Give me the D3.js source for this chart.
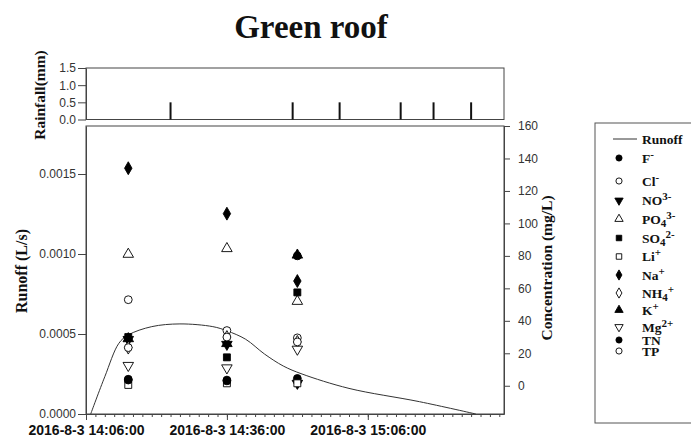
<!DOCTYPE html>
<html>
<head>
<meta charset="utf-8">
<script src="https://cdn.jsdelivr.net/npm/d3@7"></script>
<style>
  body { margin: 0; background: #fff; }
  .tick text { font-family: "Liberation Sans", Arial, sans-serif; font-size: 12px; fill: #333; }
  .axis path, .axis line { stroke: #444; }
  .serif { font-family: "Liberation Serif", "Times New Roman", serif; font-weight: bold; fill: #111; }
</style>
</head>
<body>
<div class="chart"></div>
<script>
// rainfall (mm) per time step
const rainTimes = ["14:24", "14:50", "15:00", "15:13", "15:20", "15:28"];
const rainValues = [0.5, 0.5, 0.5, 0.5, 0.5, 0.5];

// runoff (L/s)
const runoffTimes = ["14:07", "14:10", "14:13", "14:15", "14:20", "14:26", "14:33", "14:36",
                     "14:40", "14:44", "14:48", "14:52", "15:02", "15:17", "15:29"];
const runoffValues = [0, 0.000233, 0.000442, 0.000494, 0.000546, 0.000563, 0.000546, 0.00052,
                      0.000467, 0.000375, 0.000300, 0.000250, 0.00016, 0.000077, 0];

// concentration samples (mg/L)
const sampleTimes = ["14:15", "14:36", "14:51"];
const ions = ["F-", "Cl-", "NO3-", "PO4", "SO4", "Li", "Na", "NH4", "K", "Mg", "TN", "TP"];
const F  = [4, 3.5, 4.5];
const Cl = [53, 34, 29.5];
const NO3 = [28.5, 25.5, 1.5];
const PO4 = [81, 84.5, 52];
const SO4 = [30, 17.5, 57.5];
const Li = [0.5, 1.5, 1.5];
const Na = [134, 106, 64.5];
const NH4 = [23.5, 30, 27];
const K = [29, 26, 80.5];
const Mg = [12.5, 11, 22.5];
const TN = [3.5, 3, 80];
const TP = [23.5, 30, 27];
const concValues = [F, Cl, NO3, PO4, SO4, Li, Na, NH4, K, Mg, TN, TP];

// tick labels
const rainTicks = [0, 0.5, 1.0, 1.5];
const runoffTicks = [0, 0.0005, 0.0010, 0.0015];
const concTicks = [0, 20, 40, 60, 80, 100, 120, 140, 160];
const timeTicks = ["14:06", "14:36", "15:06"];

// marker style per ion: symbol type, filled, rotated
const markers = [
  [d3.symbolCircle, true, 0], [d3.symbolCircle, false, 0], [d3.symbolTriangle, true, 180],
  [d3.symbolTriangle, false, 0], [d3.symbolSquare, true, 0], [d3.symbolSquare, false, 0],
  [d3.symbolDiamond, true, 0], [d3.symbolDiamond, false, 0], [d3.symbolTriangle, true, 0],
  [d3.symbolTriangle, false, 180], [d3.symbolCircle, true, 0], [d3.symbolCircle, false, 0]
];

const t = s => { const [h, m] = s.split(":"); return new Date(2016, 7, 3, +h, +m); };

const W = 691, H = 438;
const left = 86, right = 504;
const rainTop = 68, rainBottom = 119.5;
const mainTop = 126, mainBottom = 414;

const svg = d3.select(".chart").append("svg").attr("width", W).attr("height", H);

const x = d3.scaleTime().domain([t("14:06"), t("15:35")]).range([left, right]);
const yRain = d3.scaleLinear().domain([0, 1.5]).range([rainBottom, rainTop]);
const yRun = d3.scaleLinear().domain([0, 0.0018]).range([mainBottom, mainTop]);
const yConc = d3.scaleLinear().domain([-17.4, 160]).range([mainBottom, mainTop]);

// title
svg.append("text").attr("class", "serif")
   .attr("x", 311).attr("y", 38).attr("text-anchor", "middle")
   .style("font-size", "33px").text("Green roof");

// rainfall panel
svg.append("rect").attr("x", left).attr("y", rainTop)
   .attr("width", right - left).attr("height", rainBottom - rainTop)
   .attr("fill", "none").attr("stroke", "#444");
svg.append("g").attr("class", "axis")
   .attr("transform", `translate(${left},0)`)
   .call(d3.axisLeft(yRain).tickValues(rainTicks).tickFormat(d3.format(".1f")).tickSize(8).tickPadding(2).tickSizeOuter(0));
svg.selectAll(".rain").data(rainTimes).join("line")
   .attr("x1", d => x(t(d))).attr("x2", d => x(t(d)))
   .attr("y1", yRain(0)).attr("y2", (d, i) => yRain(rainValues[i]))
   .attr("stroke", "#111").attr("stroke-width", 2);

// main panel frame
svg.append("rect").attr("x", left).attr("y", mainTop)
   .attr("width", right - left).attr("height", mainBottom - mainTop)
   .attr("fill", "none").attr("stroke", "#444");

svg.append("g").attr("class", "axis")
   .attr("transform", `translate(${left},0)`)
   .call(d3.axisLeft(yRun).tickValues(runoffTicks).tickFormat(d3.format(".4f")).tickSize(8).tickPadding(2).tickSizeOuter(0));
svg.append("g").attr("class", "axis")
   .attr("transform", `translate(${right},0)`)
   .call(d3.axisRight(yConc).tickValues(concTicks).tickSize(6).tickPadding(8).tickSizeOuter(0));

// x axis: minor ticks every 2 min, labelled majors every 30 min
svg.append("g").attr("class", "axis")
   .attr("transform", `translate(0,${mainBottom})`)
   .call(d3.axisBottom(x).ticks(d3.timeMinute.every(2)).tickSize(3).tickFormat("").tickSizeOuter(0));
const xMajor = svg.append("g").attr("class", "axis")
   .attr("transform", `translate(0,${mainBottom})`)
   .call(d3.axisBottom(x).tickValues(timeTicks.map(t)).tickSize(6).tickSizeOuter(0)
          .tickFormat(d => "2016-8-3 " + d3.timeFormat("%H:%M:%S")(d)));
xMajor.select(".domain").remove();
xMajor.selectAll(".tick text").attr("class", "serif").attr("dy", null).attr("y", 20.5)
      .style("font-size", "14px").style("fill", "#111");

// runoff line
const line = d3.line().x((d, i) => x(t(runoffTimes[i]))).y(d => yRun(d)).curve(d3.curveCatmullRom.alpha(0.5));
svg.append("path").datum(runoffValues).attr("d", line)
   .attr("fill", "none").attr("stroke", "#333").attr("stroke-width", 1);

// concentration markers
const sym = (m, size) => d3.symbol().type(m[0]).size(size)();
concValues.forEach((vals, k) => {
  const m = markers[k];
  svg.append("g").selectAll("path").data(vals).join("path")
     .attr("d", sym(m, 48))
     .attr("transform", (d, i) => `translate(${x(t(sampleTimes[i]))},${yConc(d)}) rotate(${m[2]})`)
     .attr("fill", m[1] ? "#000" : "#fff").attr("stroke", "#000").attr("stroke-width", 0.9);
});

// axis titles
const vtitle = (cx, cy, txt, fs) => svg.append("text").attr("class", "serif")
   .attr("transform", `translate(${cx},${cy}) rotate(-90)`).attr("text-anchor", "middle")
   .attr("dy", "0.35em").style("font-size", fs).text(txt);
vtitle(40, 95, "Rainfall(mm)", "15.5px");
vtitle(21, 271, "Runoff (L/s)", "16px");
vtitle(547, 268, "Concentration (mg/L)", "15.5px");

// legend
const legend = svg.append("g");
legend.append("rect").attr("x", 595).attr("y", 123).attr("width", 110).attr("height", 300)
      .attr("fill", "none").attr("stroke", "#555");
const rowY = [158, 181, 200.5, 219, 238, 256.5, 275, 293, 310, 327, 340, 351];
legend.append("line").attr("x1", 613).attr("x2", 637).attr("y1", 139).attr("y2", 139)
      .attr("stroke", "#333");
legend.append("text").attr("class", "serif").attr("x", 642).attr("y", 139).attr("dy", "0.35em")
      .style("font-size", "13.5px").text("Runoff");
// label pieces: [text, shift] shift: 0 normal, 1 super, -1 sub
const labels = [
  [["F", 0], ["-", 1]], [["Cl", 0], ["-", 1]], [["NO", 0], ["3-", 1]],
  [["PO", 0], ["4", -1], ["3-", 1]], [["SO", 0], ["4", -1], ["2-", 1]], [["Li", 0], ["+", 1]],
  [["Na", 0], ["+", 1]], [["NH", 0], ["4", -1], ["+", 1]], [["K", 0], ["+", 1]],
  [["Mg", 0], ["2+", 1]], [["TN", 0]], [["TP", 0]]
];
ions.forEach((ion, k) => {
  const m = markers[k];
  legend.append("path").attr("d", sym(m, 30))
        .attr("transform", `translate(619,${rowY[k]}) rotate(${m[2]})`)
        .attr("fill", m[1] ? "#000" : "#fff").attr("stroke", "#000").attr("stroke-width", 0.9);
  const txt = legend.append("text").attr("class", "serif").attr("x", 642).attr("y", rowY[k] + 4.5)
        .style("font-size", "13.5px");
  let prev = 0;
  labels[k].forEach(([s, shift]) => {
    const off = v => v > 0 ? -5 : v < 0 ? 3 : 0;
    txt.append("tspan").attr("dy", off(shift) - off(prev)).style("font-size", shift ? "11px" : "13.5px").text(s);
    prev = shift;
  });
});
</script>
</body>
</html>
